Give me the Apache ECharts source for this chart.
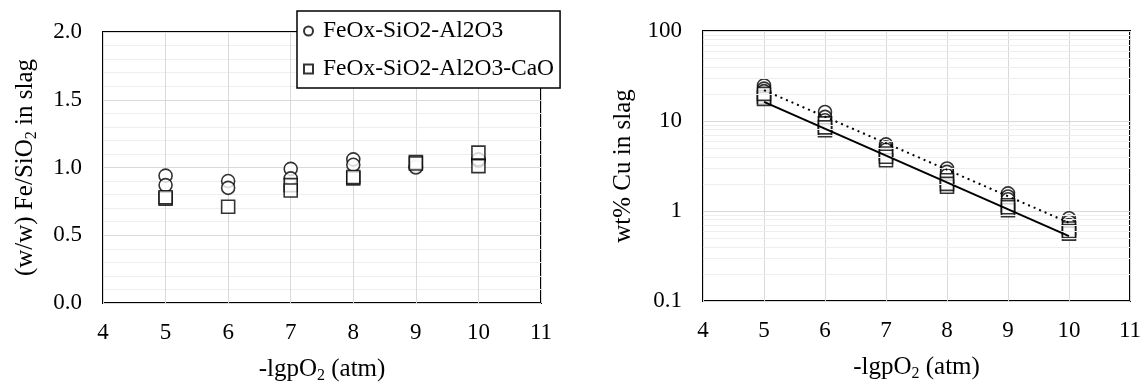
<!DOCTYPE html>
<html><head><meta charset="utf-8">
<script src="https://cdn.jsdelivr.net/npm/echarts@6/dist/echarts.min.js"></script>
<style>html,body{margin:0;padding:0;background:#fff}#c{width:1142px;height:385px}</style>
</head><body><div id="c"></div>
<script>
// Left panel: Fe/SiO2 ratio
const leftCircleX = [5, 5, 6, 6, 7, 7, 8, 8, 9, 9, 10, 10];
const leftCircleY = [0.94, 0.87, 0.90, 0.85, 0.99, 0.92, 1.06, 1.02, 1.01, 1.00, 1.05, 1.06];
const leftSquareX = [5, 5, 6, 7, 7, 8, 8, 9, 9, 10, 10];
const leftSquareY = [0.77, 0.78, 0.71, 0.87, 0.83, 0.92, 0.93, 1.04, 1.03, 1.11, 1.01];
// Right panel: wt% Cu in slag (log)
const rightCircleX = [5, 5, 5, 6, 6, 6, 7, 7, 7, 8, 8, 8, 9, 9, 9, 10, 10, 10];
const rightCircleY = [24.9, 22.9, 21.5, 12.6, 11.1, 10.2, 5.5, 5.1, 4.8, 2.97, 2.72, 2.5, 1.57, 1.45, 1.35, 0.83, 0.76, 0.70];
const rightSquareX = [5, 5, 5, 6, 6, 6, 7, 7, 7, 8, 8, 8, 9, 9, 9, 10, 10, 10];
const rightSquareY = [18.5, 17.6, 20.0, 9.4, 7.9, 8.5, 4.35, 3.67, 4.0, 2.2, 1.86, 2.0, 1.16, 1.02, 1.1, 0.64, 0.56, 0.60];
// Trendlines (endpoints)
const trendX = [5, 10];
const trendCircleY = [22.0, 0.74];
const trendSquareY = [16.3, 0.526];
// Axis ticks
const xTicks = [4, 5, 6, 7, 8, 9, 10, 11];
const leftYTicks = [0, 0.5, 1.0, 1.5, 2.0];
const logYTicks = [0.1, 1, 10, 100];
const logMinor = [0.2,0.3,0.4,0.5,0.6,0.7,0.8,0.9,2,3,4,5,6,7,8,9,20,30,40,50,60,70,80,90];
const names = ['FeOx-SiO2-Al2O3', 'FeOx-SiO2-Al2O3-CaO'];

const zip = (xs, ys) => xs.map((x, i) => [x, ys[i]]);
const FONT = '"Liberation Serif", "Times New Roman", serif';
const mk = { color: '#fff', borderColor: '#000', borderWidth: 1.6 };
const subRich = { s: { fontSize: 16, fontFamily: FONT, color: '#000', padding: [13, 0, 0, 0] } };

const xAxisBase = (gi) => ({
  gridIndex: gi, type: 'value', min: xTicks[0], max: xTicks[xTicks.length - 1], interval: 1,
  axisLine: { show: false }, axisTick: { show: false },
  axisLabel: { color: '#000', fontSize: 23, fontFamily: FONT, margin: 18 },
  splitLine: { show: true, lineStyle: { color: '#d9d9d9', width: 1 } },
  name: '-lgpO{s|2} (atm)', nameLocation: 'middle', nameGap: 52,
  nameTextStyle: { color: '#000', fontSize: 25, fontFamily: FONT, rich: subRich }
});

const option = {
  animation: false,
  backgroundColor: '#fff',
  textStyle: { fontFamily: FONT },
  grid: [
    { left: 103, top: 32, width: 438, height: 271, outerBoundsMode: 'none', containLabel: false,
      show: true, borderColor: '#000', borderWidth: 2, backgroundColor: 'transparent' },
    { left: 703, top: 31, width: 427, height: 270, outerBoundsMode: 'none', containLabel: false,
      show: true, borderColor: '#000', borderWidth: 2, backgroundColor: 'transparent' }
  ],
  legend: {
    orient: 'vertical', left: 297, top: 11, padding: [8, 6, 7, 6], itemGap: 14,
    itemWidth: 9, itemHeight: 9,
    borderColor: '#000', borderWidth: 1.5, backgroundColor: '#fff',
    textStyle: { color: '#000', fontSize: 23.5, fontFamily: FONT, padding: [0, 0, 0, 5] },
    data: [{ name: names[0], icon: 'circle' }, { name: names[1], icon: 'rect' }]
  },
  xAxis: [xAxisBase(0), xAxisBase(1)],
  yAxis: [
    { gridIndex: 0, type: 'value', min: leftYTicks[0], max: leftYTicks[leftYTicks.length - 1], interval: 0.5,
      axisLine: { show: false }, axisTick: { show: false },
      axisLabel: { color: '#000', fontSize: 23, fontFamily: FONT, margin: 21, formatter: v => v.toFixed(1) },
      splitLine: { show: true, lineStyle: { color: '#d9d9d9', width: 1 } },
      minorTick: { show: false, splitNumber: 5 },
      minorSplitLine: { show: true, lineStyle: { color: '#eeeeee', width: 1 } },
      name: '(w/w) Fe/SiO{s|2} in slag', nameLocation: 'middle', nameGap: 63, nameRotate: 90,
      nameTextStyle: { color: '#000', fontSize: 25, fontFamily: FONT, rich: subRich }
    },
    { gridIndex: 1, type: 'log', logBase: 10, min: logYTicks[0], max: logYTicks[logYTicks.length - 1],
      axisLine: { show: false }, axisTick: { show: false },
      axisLabel: { color: '#000', fontSize: 23, fontFamily: FONT, margin: 21,
        formatter: v => (v < 1 ? String(+v.toFixed(1)) : String(Math.round(v))) },
      splitLine: { show: true, lineStyle: { color: '#d9d9d9', width: 1 } },
      name: 'wt% Cu in slag', nameLocation: 'middle', nameGap: 67, nameRotate: 90,
      nameTextStyle: { color: '#000', fontSize: 25, fontFamily: FONT }
    }
  ],
  series: [
    { type: 'line', xAxisIndex: 1, yAxisIndex: 1, data: [], silent: true, z: 1,
      markLine: { silent: true, symbol: ['none', 'none'], label: { show: false }, animation: false,
        lineStyle: { color: '#eeeeee', width: 1, type: 'solid' },
        data: logMinor.map(v => ({ yAxis: v })) } },
    { name: names[0], type: 'scatter', xAxisIndex: 0, yAxisIndex: 0, symbol: 'circle', symbolSize: 13,
      itemStyle: mk, data: zip(leftCircleX, leftCircleY), z: 3 },
    { name: names[1], type: 'scatter', xAxisIndex: 0, yAxisIndex: 0, symbol: 'rect', symbolSize: 13,
      itemStyle: mk, data: zip(leftSquareX, leftSquareY), z: 4 },
    { name: names[0], type: 'scatter', xAxisIndex: 1, yAxisIndex: 1, symbol: 'circle', symbolSize: 13,
      itemStyle: mk, data: zip(rightCircleX, rightCircleY), z: 3 },
    { name: names[1], type: 'scatter', xAxisIndex: 1, yAxisIndex: 1, symbol: 'rect', symbolSize: 13,
      itemStyle: mk, data: zip(rightSquareX, rightSquareY), z: 4 },
    { type: 'line', xAxisIndex: 1, yAxisIndex: 1, showSymbol: false, symbol: 'none', z: 5,
      lineStyle: { color: '#000', width: 2, type: [2, 4] }, data: zip(trendX, trendCircleY) },
    { type: 'line', xAxisIndex: 1, yAxisIndex: 1, showSymbol: false, symbol: 'none', z: 5,
      lineStyle: { color: '#000', width: 2, type: 'solid' }, data: zip(trendX, trendSquareY) }
  ]
};
const chart = echarts.init(document.getElementById('c'), null, { renderer: 'canvas' });
chart.setOption(option);
</script></body></html>
